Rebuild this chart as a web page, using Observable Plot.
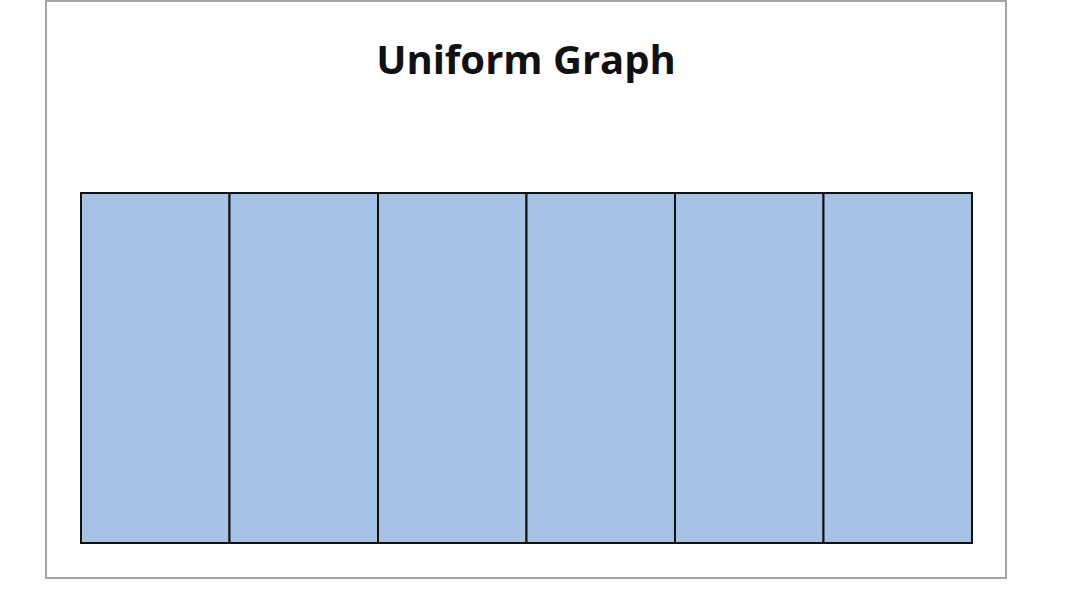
<!DOCTYPE html>
<html>
<head>
<meta charset="utf-8">
<script src="https://cdn.jsdelivr.net/npm/d3@7"></script>
<script src="https://cdn.jsdelivr.net/npm/@observablehq/plot@0.6"></script>
<style>
  html, body { margin: 0; padding: 0; background: #ffffff; }
  body { width: 1066px; height: 596px; position: relative; overflow: hidden; }
  #frame {
    position: absolute; left: 45px; top: 0px; width: 962px; height: 579px;
    box-sizing: border-box; border: 2px solid #a6a6a6; background: #fff;
  }
  #title {
    height: 120px; margin: 0; padding-top: 33px; box-sizing: border-box;
    text-align: center; font-family: "Open Sans", sans-serif; font-weight: 700;
    font-size: 40px; line-height: 48px; color: #111;
  }
  #chart svg { display: block; }
</style>
</head>
<body>
<div id="frame">
  <div id="title">Uniform Graph</div>
  <div id="chart"></div>
</div>
<script>
const categories = ["1", "2", "3", "4", "5", "6"];
const values = [1, 1, 1, 1, 1, 1];

const data = categories.map((c, i) => ({category: c, value: values[i]}));

const chart = Plot.plot({
  width: 958,
  height: 455,
  marginLeft: 34,
  marginRight: 33,
  marginTop: 71,
  marginBottom: 34,
  x: {domain: categories, padding: 0, round: false, axis: null},
  y: {domain: [0, 1], axis: null},
  marks: [
    Plot.barY(data, {
      x: "category",
      y: "value",
      fill: "#a5c3e6",
      stroke: "#111111",
      strokeWidth: 2,
      inset: 0
    })
  ]
});
document.getElementById("chart").appendChild(chart);
</script>
</body>
</html>
